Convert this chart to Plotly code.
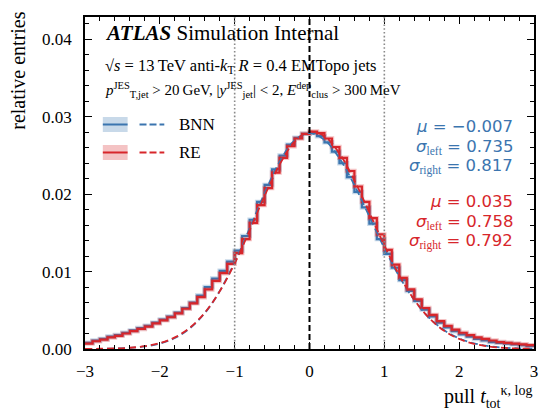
import plotly.graph_objects as go

# ---------------- data ----------------
BIN_START = -3.0
BIN_WIDTH = 0.1

BNN_HIST = [
    0.0008, 0.0011, 0.0013, 0.0016, 0.0018, 0.0021, 0.0024, 0.0027, 0.0030, 0.0034,
    0.0038, 0.0042, 0.0047, 0.0053, 0.0060, 0.0069, 0.0080, 0.0091, 0.0101, 0.0113,
    0.0127, 0.0146, 0.0167, 0.0190, 0.0212, 0.0232, 0.0250, 0.0264, 0.0273, 0.0278,
    0.0279, 0.0275, 0.0267, 0.0255, 0.0240, 0.0222, 0.0203, 0.0183, 0.0162, 0.0142,
    0.0123, 0.0105, 0.0089, 0.0075, 0.0062, 0.0051, 0.0042, 0.0034, 0.0028, 0.0023,
    0.0019, 0.0016, 0.0013, 0.0011, 0.0009, 0.0008, 0.0007, 0.0006, 0.0005, 0.0004,
]
RE_HIST = [
    0.0007, 0.0010, 0.0012, 0.0015, 0.0017, 0.0020, 0.0023, 0.0026, 0.0029, 0.0033,
    0.0037, 0.0041, 0.0046, 0.0052, 0.0059, 0.0067, 0.0077, 0.0088, 0.0098, 0.0110,
    0.0124, 0.0142, 0.0163, 0.0186, 0.0208, 0.0228, 0.0247, 0.0262, 0.0272, 0.0278,
    0.0281, 0.0279, 0.0272, 0.0261, 0.0247, 0.0230, 0.0210, 0.0190, 0.0169, 0.0148,
    0.0128, 0.0109, 0.0092, 0.0077, 0.0064, 0.0053, 0.0044, 0.0036, 0.0030, 0.0025,
    0.0021, 0.0018, 0.0015, 0.0013, 0.0011, 0.0009, 0.0008, 0.0007, 0.0006, 0.0005,
]

FIT_X = [-3.0, -2.8, -2.6, -2.4, -2.2, -2.0, -1.8, -1.6, -1.4, -1.2, -1.0,
         -0.8, -0.6, -0.4, -0.2, 0.0, 0.2, 0.4, 0.6, 0.8, 1.0,
         1.2, 1.4, 1.6, 1.8, 2.0, 2.2, 2.4, 2.6, 2.8, 3.0]
BNN_FIT = [0.00000, 0.00002, 0.00006, 0.00014, 0.00033, 0.00071, 0.00142, 0.00267,
           0.00463, 0.00748, 0.01120, 0.01559, 0.02015, 0.02418, 0.02695, 0.02790,
           0.02702, 0.02464, 0.02117, 0.01713, 0.01305, 0.00937, 0.00633, 0.00403,
           0.00242, 0.00137, 0.00073, 0.00036, 0.00017, 0.00008, 0.00003]
RE_FIT = [0.00001, 0.00003, 0.00007, 0.00016, 0.00036, 0.00076, 0.00150, 0.00274,
          0.00468, 0.00745, 0.01106, 0.01532, 0.01978, 0.02383, 0.02678, 0.02807,
          0.02750, 0.02527, 0.02179, 0.01762, 0.01338, 0.00952, 0.00636, 0.00399,
          0.00235, 0.00130, 0.00067, 0.00033, 0.00015, 0.00006, 0.00003]

BNN_STATS = ["\u22120.007", "0.735", "0.817"]
RE_STATS = ["0.035", "0.758", "0.792"]
SERIES = ["BNN", "RE"]

X_TICKS = [-3, -2, -1, 0, 1, 2, 3]
Y_TICKS = [0.00, 0.01, 0.02, 0.03, 0.04]
X_RANGE = [-3, 3]
Y_RANGE = [0, 0.0429]
DOTTED_LINES = [-1, 1]
DASHED_LINES = [0]

# ---------------- style ----------------
BLUE = "#3b75af"
RED = "#d7262b"
BLUE_BAND = "rgba(59,117,175,0.28)"
RED_BAND = "rgba(215,38,43,0.28)"
SERIF = "Liberation Serif, serif"
SANS = "DejaVu Sans"

edges = [BIN_START + i * BIN_WIDTH for i in range(len(BNN_HIST) + 1)]


def step_y(v):
    return list(v) + [v[-1]]


fig = go.Figure()
for vals, col, band in [(BNN_HIST, BLUE, BLUE_BAND), (RE_HIST, RED, RED_BAND)]:
    fig.add_trace(go.Scatter(x=edges, y=step_y(vals), mode="lines", line_shape="hv",
                             line=dict(color=band, width=4.5), showlegend=False, hoverinfo="skip"))
    fig.add_trace(go.Scatter(x=edges, y=step_y(vals), mode="lines", line_shape="hv",
                             line=dict(color=col, width=2.2), showlegend=False))
for vals, col in [(BNN_FIT, BLUE), (RE_FIT, RED)]:
    fig.add_trace(go.Scatter(x=FIT_X, y=vals, mode="lines", line_shape="spline",
                             line=dict(color=col, width=1.8, dash="7px,4px"), showlegend=False))

shapes = []
for xv in DOTTED_LINES:
    shapes.append(dict(type="line", xref="x", yref="paper", x0=xv, x1=xv, y0=0, y1=1,
                       line=dict(color="#8a8a8a", width=1.6, dash="1.6px,2.2px")))
for xv in DASHED_LINES:
    shapes.append(dict(type="line", xref="x", yref="paper", x0=xv, x1=xv, y0=0, y1=1,
                       line=dict(color="black", width=2, dash="6px,3px")))

# legend (manual)
leg = [(BLUE, BLUE_BAND, 0.6762, SERIES[0]), (RED, RED_BAND, 0.5919, SERIES[1])]
annotations = []
for col, band, yc, name in leg:
    shapes.append(dict(type="rect", xref="paper", yref="paper", x0=0.0397, x1=0.0949,
                       y0=yc - 0.0226, y1=yc + 0.0226, fillcolor=band, line=dict(width=0)))
    shapes.append(dict(type="line", xref="paper", yref="paper", x0=0.0397, x1=0.0949,
                       y0=yc, y1=yc, line=dict(color=col, width=2)))
    shapes.append(dict(type="line", xref="paper", yref="paper", x0=0.1214, x1=0.1766,
                       y0=yc, y1=yc, line=dict(color=col, width=1.8, dash="7px,3px")))
    annotations.append(dict(text=name, xref="paper", yref="paper", x=0.206, y=yc,
                            xanchor="left", yanchor="middle", showarrow=False,
                            font=dict(family=SERIF, size=17, color="black")))

# ATLAS label
annotations += [
    dict(text="<b><i>ATLAS</i></b> Simulation Internal", xref="paper", yref="paper",
         x=0.0397, y=0.9509, xanchor="left", yanchor="middle", showarrow=False,
         font=dict(family=SERIF, size=21, color="black")),
    dict(text="\u221a<i>s</i> = 13\u2009TeV anti-<i>k</i><sub>T</sub> <i>R</i> = 0.4 EMTopo jets",
         xref="paper", yref="paper", x=0.0397, y=0.852, xanchor="left", yanchor="middle",
         showarrow=False, font=dict(family=SERIF, size=16.5, color="black")),
    dict(text="<i>p</i><sup>JES</sup><sub>T,jet</sub> &gt; 20\u2009GeV, |<i>y</i><sup>JES</sup><sub>jet</sub>| &lt; 2, "
              "<i>E</i><sup>dep</sup><sub>clus</sub> &gt; 300\u2009MeV",
         xref="paper", yref="paper", x=0.0397, y=0.780, xanchor="left", yanchor="middle",
         showarrow=False, font=dict(family=SERIF, size=15, color="black")),
]

# fit statistics
def stat_lines(stats):
    sub = "<span style='font-family:Liberation Serif'>%s</span>"
    return ["<i>\u03bc</i> = " + stats[0],
            "<i>\u03c3</i><sub>" + sub % "left" + "</sub> = " + stats[1],
            "<i>\u03c3</i><sub>" + sub % "right" + "</sub> = " + stats[2]]

for stats, col, ys in [(BNN_STATS, BLUE, [0.6699, 0.6096, 0.5494]),
                       (RE_STATS, RED, [0.4440, 0.3837, 0.3235])]:
    for txt, yv in zip(stat_lines(stats), ys):
        annotations.append(dict(text=txt, xref="paper", yref="paper", x=0.9566, y=yv,
                                xanchor="right", yanchor="middle", showarrow=False,
                                font=dict(family=SANS, size=16.5, color=col)))

# axis titles
annotations += [
    dict(text="relative entries", xref="paper", yref="paper", x=-0.150, y=0.837,
         xanchor="center", yanchor="middle", textangle=-90, showarrow=False,
         font=dict(family=SERIF, size=20, color="black")),
    dict(text="pull <i>t</i><sub>tot</sub><sup>\u03ba, log</sup>", xref="paper", yref="paper",
         x=1.0, y=-0.145, xanchor="right", yanchor="middle", showarrow=False,
         font=dict(family=SERIF, size=20, color="black")),
]

axis_common = dict(showline=True, linecolor="black", linewidth=1.5, mirror="allticks",
                   ticks="inside", ticklen=7, tickwidth=1.3, tickcolor="black",
                   showgrid=False, zeroline=False,
                   tickfont=dict(family=SERIF, size=17, color="black"))

fig.update_layout(
    width=545, height=414,
    margin=dict(l=85, r=7, t=17, b=65),
    paper_bgcolor="white", plot_bgcolor="white",
    font=dict(family=SERIF, color="black"),
    shapes=shapes, annotations=annotations, showlegend=False,
    xaxis=dict(range=X_RANGE, tickvals=X_TICKS, ticktext=[("\u2212%d" % -v) if v < 0 else str(v) for v in X_TICKS],
               minor=dict(ticks="inside", ticklen=4, tickwidth=1, dtick=0.2, tick0=-3, tickcolor="black"),
               ticklabelstandoff=6, **axis_common),
    yaxis=dict(range=Y_RANGE, tickvals=Y_TICKS, ticktext=["%.2f" % v for v in Y_TICKS],
               minor=dict(ticks="inside", ticklen=4, tickwidth=1, dtick=0.002, tick0=0, tickcolor="black"),
               ticklabelstandoff=8, **axis_common),
)

fig.write_html("out.html")
